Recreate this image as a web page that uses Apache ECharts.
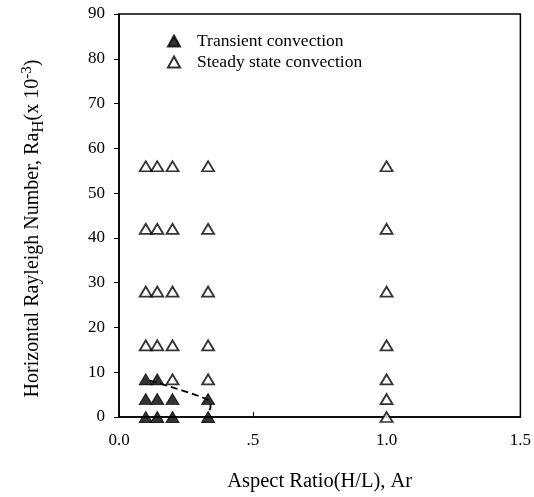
<!DOCTYPE html>
<html>
<head>
<meta charset="utf-8">
<script src="https://cdn.jsdelivr.net/npm/echarts@6/dist/echarts.min.js"></script>
<style>
  html, body { margin: 0; padding: 0; background: #fff; }
  #chart { width: 534px; height: 497px; }
</style>
</head>
<body>
<div id="chart"></div>
<script>
// aspect ratios tested (1/10, 1/7, 1/5, 1/3, 1)
const transientX = [0.1, 0.143, 0.1, 0.143, 0.2, 0.333, 0.1, 0.143, 0.2, 0.333];
const transientY = [8.4, 8.4, 4, 4, 4, 4, 0, 0, 0, 0];

const steadyX = [
    0.1, 0.143, 0.2, 0.333, 1.0,
    0.1, 0.143, 0.2, 0.333, 1.0,
    0.1, 0.143, 0.2, 0.333, 1.0,
    0.1, 0.143, 0.2, 0.333, 1.0,
    0.2, 0.333, 1.0,
    1.0,
    1.0
];
const steadyY = [
    56, 56, 56, 56, 56,
    42, 42, 42, 42, 42,
    28, 28, 28, 28, 28,
    16, 16, 16, 16, 16,
    8.4, 8.4, 8.4,
    4,
    0
];

// dashed boundary between the two regimes
const boundaryX = [0.115, 0.335, 0.342, 0.33];
const boundaryY = [8.1, 3.8, 2.2, 0.8];

const xTickLabels = { 0: '0.0', 0.5: '.5', 1: '1.0', 1.5: '1.5' };

const zip = (xs, ys) => xs.map((x, i) => [x, ys[i]]);

const serif = 'Liberation Serif';
const chart = echarts.init(document.getElementById('chart'));

chart.setOption({
    animation: false,
    backgroundColor: '#fff',
    textStyle: { fontFamily: serif, color: '#000' },
    grid: {
        left: 119, right: 11, top: 14, bottom: 79,
        show: true, borderColor: '#000', borderWidth: 1.5
    },
    legend: {
        orient: 'vertical',
        left: 162, top: 27,
        itemWidth: 12, itemHeight: 11, itemGap: 3,
        textStyle: { fontFamily: serif, fontSize: 17.5, color: '#000', padding: [0, 0, 0, 12] },
        data: [
            { name: 'Transient convection', icon: 'triangle' },
            { name: 'Steady state convection', icon: 'triangle' }
        ]
    },
    xAxis: {
        type: 'value',
        min: 0, max: 1.5, interval: 0.5,
        name: 'Aspect Ratio(H/L), Ar',
        nameLocation: 'middle',
        nameGap: 54,
        nameTextStyle: { fontFamily: serif, fontSize: 20.5, color: '#000' },
        axisLine: { lineStyle: { color: '#000', width: 1.5 } },
        axisTick: { inside: true, length: 5, lineStyle: { color: '#000' } },
        axisLabel: {
            fontFamily: serif, fontSize: 17, color: '#000', margin: 15,
            formatter: v => xTickLabels[v] !== undefined ? xTickLabels[v] : ''
        },
        splitLine: { show: false }
    },
    yAxis: {
        type: 'value',
        min: 0, max: 90, interval: 10,
        name: '{n|Horizontal Rayleigh Number, Ra}{sub|H}{n|(x 10}{sup|-3}{n|)}',
        nameLocation: 'middle',
        nameRotate: 90,
        nameGap: 72,
        nameTextStyle: {
            fontFamily: serif, color: '#000',
            padding: [0, 26, 0, 0],
            rich: {
                n: { fontFamily: serif, fontSize: 20, color: '#000' },
                sub: { fontFamily: serif, fontSize: 17, color: '#000', verticalAlign: 'top', padding: [12, 0, 0, 0] },
                sup: { fontFamily: serif, fontSize: 15, color: '#000', verticalAlign: 'bottom', padding: [0, 0, 12, 0] }
            }
        },
        axisLine: { lineStyle: { color: '#000', width: 1.5 } },
        axisTick: { inside: false, length: 5, lineStyle: { color: '#000' } },
        axisLabel: { fontFamily: serif, fontSize: 17, color: '#000', margin: 14 },
        splitLine: { show: false }
    },
    series: [
        {
            name: 'Boundary',
            type: 'line',
            data: zip(boundaryX, boundaryY),
            symbol: 'none',
            smooth: 0.3,
            lineStyle: { color: '#000', width: 1.8, type: [7, 4] },
            z: 1
        },
        {
            name: 'Transient convection',
            type: 'scatter',
            data: zip(transientX, transientY),
            symbol: 'triangle',
            symbolSize: [13, 11],
            itemStyle: { color: '#000', borderColor: '#000', borderWidth: 1 },
            z: 3
        },
        {
            name: 'Steady state convection',
            type: 'scatter',
            data: zip(steadyX, steadyY),
            symbol: 'triangle',
            symbolSize: [12, 10],
            itemStyle: { color: '#fff', borderColor: '#000', borderWidth: 1.8 },
            z: 2
        }
    ]
});
</script>
</body>
</html>
